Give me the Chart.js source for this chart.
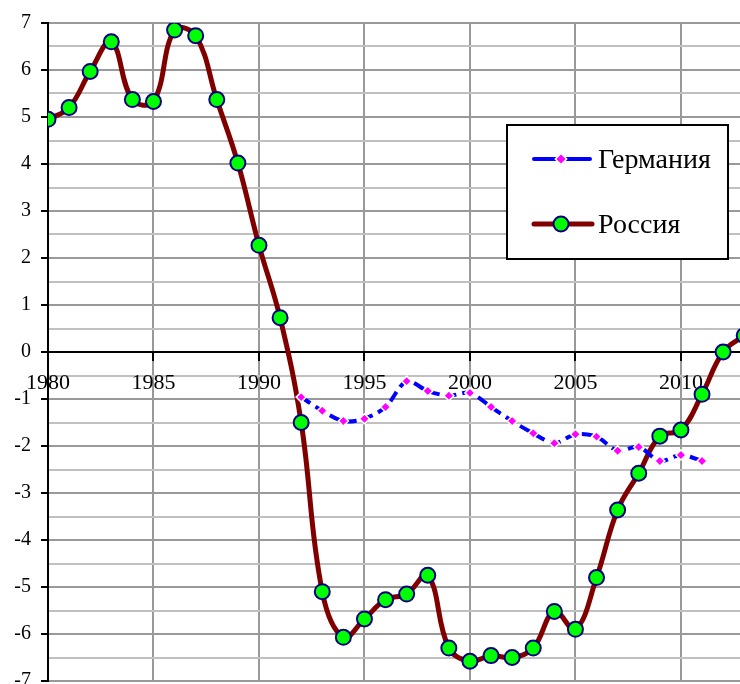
<!DOCTYPE html>
<html><head><meta charset="utf-8">
<script src="https://cdn.jsdelivr.net/npm/chart.js@4/dist/chart.umd.min.js"></script>
<style>html,body{margin:0;padding:0;background:#fff}#wrap{width:740px;height:684px}</style>
</head><body><div id="wrap"><canvas id="c" width="740" height="684"></canvas></div>
<script>
const years = [1980,1981,1982,1983,1984,1985,1986,1987,1988,1989,1990,1991,1992,1993,1994,1995,1996,1997,1998,1999,2000,2001,2002,2003,2004,2005,2006,2007,2008,2009,2010,2011,2012,2013];
const russia = [4.95,5.2,5.97,6.6,5.37,5.33,6.85,6.73,5.37,4.02,2.27,0.73,-1.5,-5.1,-6.07,-5.68,-5.27,-5.15,-4.75,-6.3,-6.58,-6.46,-6.5,-6.3,-5.52,-5.9,-4.8,-3.36,-2.58,-1.79,-1.66,-0.9,0.0,0.35];
const germanyYears = [1992,1993,1994,1995,1996,1997,1998,1999,2000,2001,2002,2003,2004,2005,2006,2007,2008,2009,2010,2011];
const germany = [-0.96,-1.25,-1.47,-1.42,-1.17,-0.62,-0.83,-0.93,-0.87,-1.17,-1.47,-1.73,-1.94,-1.75,-1.8,-2.1,-2.02,-2.32,-2.19,-2.32];
const seriesNames = ['Германия','Россия'];
const xTickLabels = [1980,1985,1990,1995,2000,2005,2010];

const FONT = '"Liberation Serif", "Times New Roman", serif';

const legendPlugin = {
  id: 'boxLegend',
  afterDraw(chart) {
    const ctx = chart.ctx;
    ctx.save();
    const x0 = 507, y0 = 125, w = 221, h = 134;
    ctx.fillStyle = '#fff';
    ctx.fillRect(x0, y0, w, h);
    ctx.lineWidth = 2;
    ctx.strokeStyle = '#000';
    ctx.strokeRect(x0, y0, w, h);
    // Germany
    let y = 159;
    ctx.strokeStyle = '#0000ff'; ctx.lineWidth = 4; ctx.lineCap = 'round';
    ctx.beginPath(); ctx.moveTo(534, y); ctx.lineTo(590, y); ctx.stroke();
    ctx.save(); ctx.translate(561, y); ctx.rotate(Math.PI/4);
    ctx.fillStyle = '#ff00ff'; ctx.strokeStyle = '#fff'; ctx.lineWidth = 1.5;
    ctx.fillRect(-4,-4,8,8); ctx.strokeRect(-4,-4,8,8);
    ctx.restore();
    // Russia
    y = 224;
    ctx.strokeStyle = '#800000'; ctx.lineWidth = 5;
    ctx.beginPath(); ctx.moveTo(534, y); ctx.lineTo(592, y); ctx.stroke();
    ctx.beginPath(); ctx.arc(561, y, 7.5, 0, Math.PI*2);
    ctx.fillStyle = '#00ff00'; ctx.fill();
    ctx.strokeStyle = '#000080'; ctx.lineWidth = 2; ctx.stroke();
    ctx.fillStyle = '#000';
    ctx.font = '28px ' + FONT;
    ctx.textBaseline = 'middle';
    ctx.textAlign = 'left';
    ctx.fillText(seriesNames[0], 598, 161);
    ctx.fillText(seriesNames[1], 598, 226);
    ctx.restore();
  }
};

new Chart(document.getElementById('c'), {
  type: 'line',
  data: {
    datasets: [
      {
        label: seriesNames[1],
        data: years.map((x,i)=>({x, y: russia[i]})),
        borderColor: '#800000',
        borderWidth: 5,
        tension: 0.4,
        pointRadius: 7.5,
        pointBackgroundColor: '#00ff00',
        pointBorderColor: '#000080',
        pointBorderWidth: 2,
        order: 2
      },
      {
        label: seriesNames[0],
        data: germanyYears.map((x,i)=>({x, y: germany[i]})),
        borderColor: '#0000ff',
        borderWidth: 4,
        borderDash: [11, 6],
        tension: 0.3,
        pointStyle: 'rectRot',
        pointRadius: 5,
        pointBackgroundColor: '#ff00ff',
        pointBorderColor: '#ffffff',
        pointBorderWidth: 1.5,
        order: 1
      }
    ]
  },
  options: {
    responsive: false,
    animation: false,
    devicePixelRatio: 1,
    layout: { autoPadding: false, padding: { top: 23, right: 0, bottom: 3, left: 0 } },
    plugins: { legend: { display: false }, tooltip: { enabled: false } },
    scales: {
      x: {
        type: 'linear',
        position: { y: 0 },
        min: 1980,
        max: 2012.8,
        afterBuildTicks(axis) { axis.ticks = xTickLabels.map(v => ({ value: v })); },
        afterFit(axis) { axis.paddingLeft = 0; axis.paddingRight = 0; axis.height = 0; },
        ticks: {
          color: '#000',
          font: { family: FONT, size: 22 },
          padding: 10,
          maxRotation: 0,
          autoSkip: false,
          callback: v => String(v)
        },
        grid: {
          color: '#999999',
          lineWidth: 2,
          tickLength: 8,
          tickColor: '#000',
          tickWidth: 2
        },
        border: { color: '#000', width: 2 }
      },
      y: {
        type: 'linear',
        min: -7,
        max: 7,
        afterFit(axis) { axis.width = 48; axis.paddingTop = 0; axis.paddingBottom = 0; },
        ticks: {
          stepSize: 0.5,
          color: '#000',
          font: { family: FONT, size: 20 },
          padding: 10,
          autoSkip: false,
          callback: v => Number.isInteger(v) ? String(v) : ''
        },
        grid: {
          color: ctx => Number.isInteger(ctx.tick.value) ? '#999999' : '#c0c0c0',
          lineWidth: 2,
          tickLength: 7,
          tickColor: ctx => Number.isInteger(ctx.tick.value) ? '#000' : 'rgba(0,0,0,0)',
          tickWidth: 2
        },
        border: { color: '#000', width: 2 }
      }
    }
  },
  plugins: [legendPlugin]
});
</script>
</body></html>
